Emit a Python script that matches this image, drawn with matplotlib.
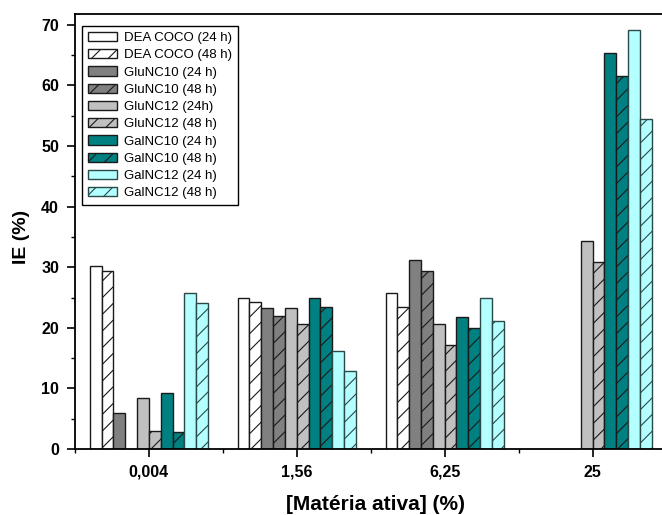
import numpy as np
import matplotlib
matplotlib.use("Agg")
import matplotlib.pyplot as plt
from matplotlib.ticker import MultipleLocator

plt.rcParams['font.family'] = ['Liberation Sans', 'DejaVu Sans']
plt.rcParams['hatch.linewidth'] = 0.8

categories = ["0,004", "1,56", "6,25", "25"]
series_names = ["DEA COCO (24 h)", "DEA COCO (48 h)", "GluNC10 (24 h)", "GluNC10 (48 h)",
                "GluNC12 (24h)", "GluNC12 (48 h)", "GalNC10 (24 h)", "GalNC10 (48 h)",
                "GalNC12 (24 h)", "GalNC12 (48 h)"]
dea_24 = [30.2, 24.9, 25.7, np.nan]
dea_48 = [29.3, 24.2, 23.5, np.nan]
glu10_24 = [6.0, 23.2, 31.2, np.nan]
glu10_48 = [np.nan, 21.9, 29.4, np.nan]
glu12_24 = [8.5, 23.3, 20.7, 34.4]
glu12_48 = [2.9, 20.6, 17.2, 30.9]
gal10_24 = [9.3, 24.9, 21.8, 65.3]
gal10_48 = [2.8, 23.5, 19.9, 61.5]
gal12_24 = [25.7, 16.1, 24.9, 69.2]
gal12_48 = [24.1, 12.9, 21.1, 54.4]
values = [dea_24, dea_48, glu10_24, glu10_48, glu12_24, glu12_48,
          gal10_24, gal10_48, gal12_24, gal12_48]

fills = ["#FFFFFF", "#FFFFFF", "#808080", "#808080", "#C0C0C0", "#C0C0C0",
         "#008080", "#008080", "#B4FFFF", "#B4FFFF"]
edges = ["#1a1a1a"] * 8 + ["#2a4a4a", "#2a4a4a"]
hatches = [None, "//"] * 5

fig = plt.figure(figsize=(6.62, 5.15), dpi=100)
ax = fig.add_axes([75/662, 1 - 449/515, 1 - 75/662, (449 - 14)/515])

x = np.arange(1, len(categories) + 1)
w = 0.08
for i, (name, vals) in enumerate(zip(series_names, values)):
    ax.bar(x + (i - 4.5) * w, vals, width=w, color=fills[i], edgecolor=edges[i],
           linewidth=1.0, hatch=hatches[i], label=name)

ax.set_xlim(0.5, 4.47)
ax.set_ylim(0, 71.8)
ax.set_xticks(x)
ax.set_xticklabels(categories, fontweight='bold', fontsize=11.5)
ax.xaxis.set_minor_locator(MultipleLocator(0.5))
ax.yaxis.set_major_locator(MultipleLocator(10))
ax.yaxis.set_minor_locator(MultipleLocator(5))
for lab in ax.get_yticklabels():
    lab.set_fontweight('bold')
    lab.set_fontsize(11.5)
ax.tick_params(axis='both', which='major', direction='out', length=5.5, width=1.2, pad=6)
ax.tick_params(axis='both', which='minor', direction='out', length=3, width=1.0)
ax.spines['right'].set_visible(False)
for s in ['left', 'bottom', 'top']:
    ax.spines[s].set_linewidth(1.3)

ax.set_ylabel("IE (%)", fontweight='bold', fontsize=14)
ax.yaxis.set_label_coords(-(75 - 21) / 587, (449 - 237) / 435)
ax.set_xlabel("[Matéria ativa] (%)", fontweight='bold', fontsize=15)
ax.xaxis.set_label_coords((376 - 75) / 587, -(504 - 449) / 435)
ax.xaxis.label.set_va('center')
ax.yaxis.label.set_va('center')

leg = ax.legend(loc='upper left', bbox_to_anchor=(7/587, 1 - 12/435), fontsize=9.5,
                frameon=True, fancybox=False, edgecolor='black', framealpha=1,
                handlelength=2.2, handleheight=0.7, handletextpad=0.5,
                labelspacing=0.38, borderpad=0.45, borderaxespad=0)
leg.get_frame().set_linewidth(1.0)

fig.savefig("out.png", dpi=100)
